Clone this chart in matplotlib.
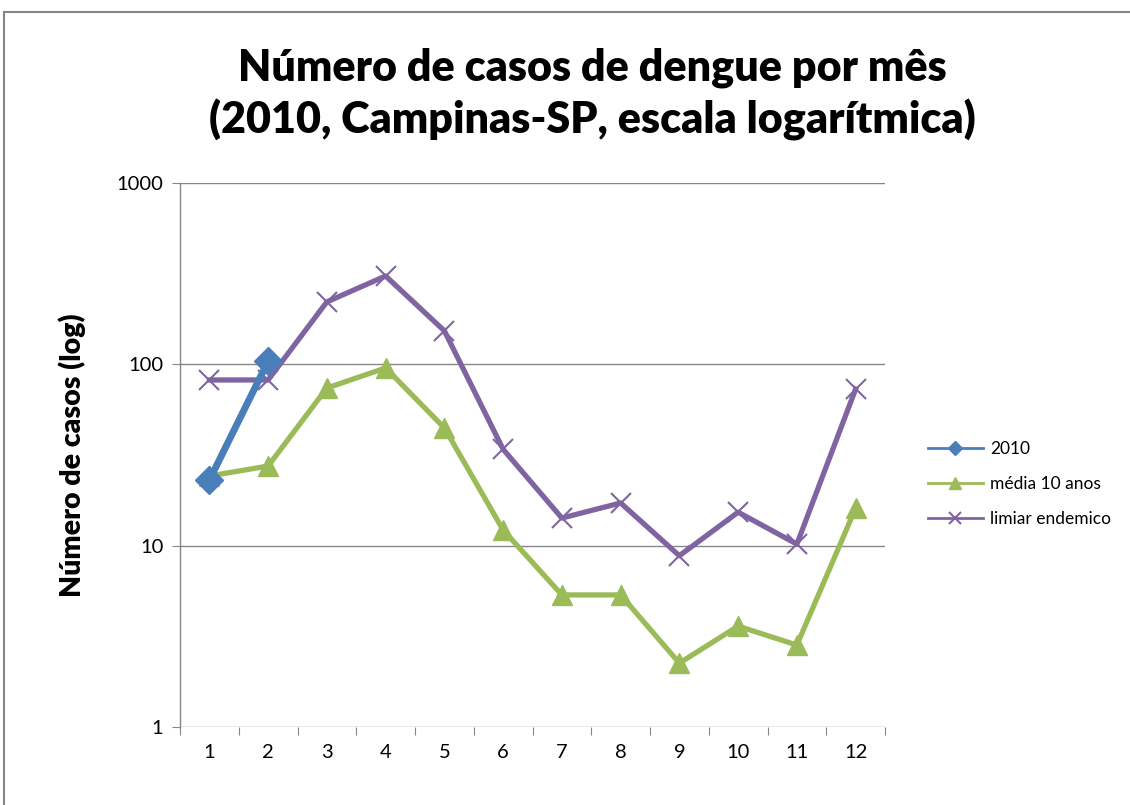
import matplotlib
matplotlib.use("Agg")
import matplotlib.pyplot as plt
from matplotlib.patches import Rectangle
from matplotlib.lines import Line2D
import numpy as np

months = [1, 2, 3, 4, 5, 6, 7, 8, 9, 10, 11, 12]
month_labels = ["1", "2", "3", "4", "5", "6", "7", "8", "9", "10", "11", "12"]
casos_2010 = [23, 104]
media_10_anos = [24.2, 27.5, 74, 95.5, 44.6, 12.2, 5.35, 5.35, 2.25, 3.6, 2.83, 16.1]
limiar_endemico = [82, 82, 221, 307, 153, 34, 14.2, 17.2, 8.8, 15.3, 10.2, 73]
ytick_vals = [1, 10, 100, 1000]
ytick_labels = ["1", "10", "100", "1000"]

plt.rcParams['font.family'] = ['Lato', 'DejaVu Sans']

W, H = 1130, 805
fig = plt.figure(figsize=(W / 100, H / 100), dpi=100)

# chart border (top and left visible)
fig.patches.append(Rectangle((4 / W, -0.05), 1.2, 1 - 12 / H + 0.05, transform=fig.transFigure,
                             fill=False, edgecolor='#868686', linewidth=1.5))

ax = fig.add_axes([180 / W, 1 - 727 / H, (885 - 180) / W, (727 - 183) / H])
ax.set_yscale('log')
ax.set_ylim(1, 1000)
ax.set_xlim(0.5, 12.5)

grid_c = '#868686'
for v in ytick_vals:
    ax.axhline(v, color=grid_c, linewidth=1.0, zorder=1)

col_limiar = '#8064A2'
col_media = '#9BBB59'
col_2010 = '#4A7EBB'

ax.plot(months, limiar_endemico, color=col_limiar, linewidth=3.8, marker='x',
        markersize=14, markeredgewidth=1.5, zorder=3, solid_joinstyle='round')
ax.plot(months, media_10_anos, color=col_media, linewidth=3.8, marker='^',
        markersize=15, zorder=4, solid_joinstyle='round')
ax.plot(months[:len(casos_2010)], casos_2010, color=col_2010, linewidth=5, marker='D',
        markersize=14, zorder=5, solid_joinstyle='round')

for s in ['top', 'right']:
    ax.spines[s].set_visible(False)
ax.spines['bottom'].set_visible(False)
ax.spines['left'].set_color(grid_c)
ax.spines['left'].set_linewidth(1.0)

ax.set_yticks(ytick_vals)
ax.set_yticklabels(ytick_labels, fontsize=14.5)
ax.yaxis.set_minor_locator(matplotlib.ticker.NullLocator())
ax.tick_params(axis='y', which='major', direction='out', length=6, color=grid_c, pad=6)

ax.set_xticks(np.arange(0.5, 13, 1.0))
ax.set_xticklabels([])
ax.set_xticks(months, minor=True)
ax.set_xticklabels(month_labels, minor=True, fontsize=14.5)
ax.tick_params(axis='x', which='major', direction='out', length=6, color=grid_c)
ax.tick_params(axis='x', which='minor', length=0, pad=12)

ax.set_ylabel("Número de casos (log)", fontsize=20.5, fontweight='heavy', labelpad=22)

fig.text(592 / W, 1 - 94 / H, "Número de casos de dengue por mês\n(2010, Campinas-SP, escala logarítmica)",
         ha='center', va='center', fontsize=31, fontweight='heavy', linespacing=1.3)

handles = [
    Line2D([], [], color=col_2010, linewidth=2, marker='D', markersize=7),
    Line2D([], [], color=col_media, linewidth=2, marker='^', markersize=8),
    Line2D([], [], color=col_limiar, linewidth=2, marker='x', markersize=8, markeredgewidth=1.5),
]
fig.legend(handles, ["2010", "média 10 anos", "limiar endemico"], loc='center left',
           bbox_to_anchor=(912 / W, 1 - 484 / H), frameon=False, fontsize=12.5,
           handlelength=3.2, labelspacing=1.1, handletextpad=0.4)

fig.savefig("out.png", dpi=100)
